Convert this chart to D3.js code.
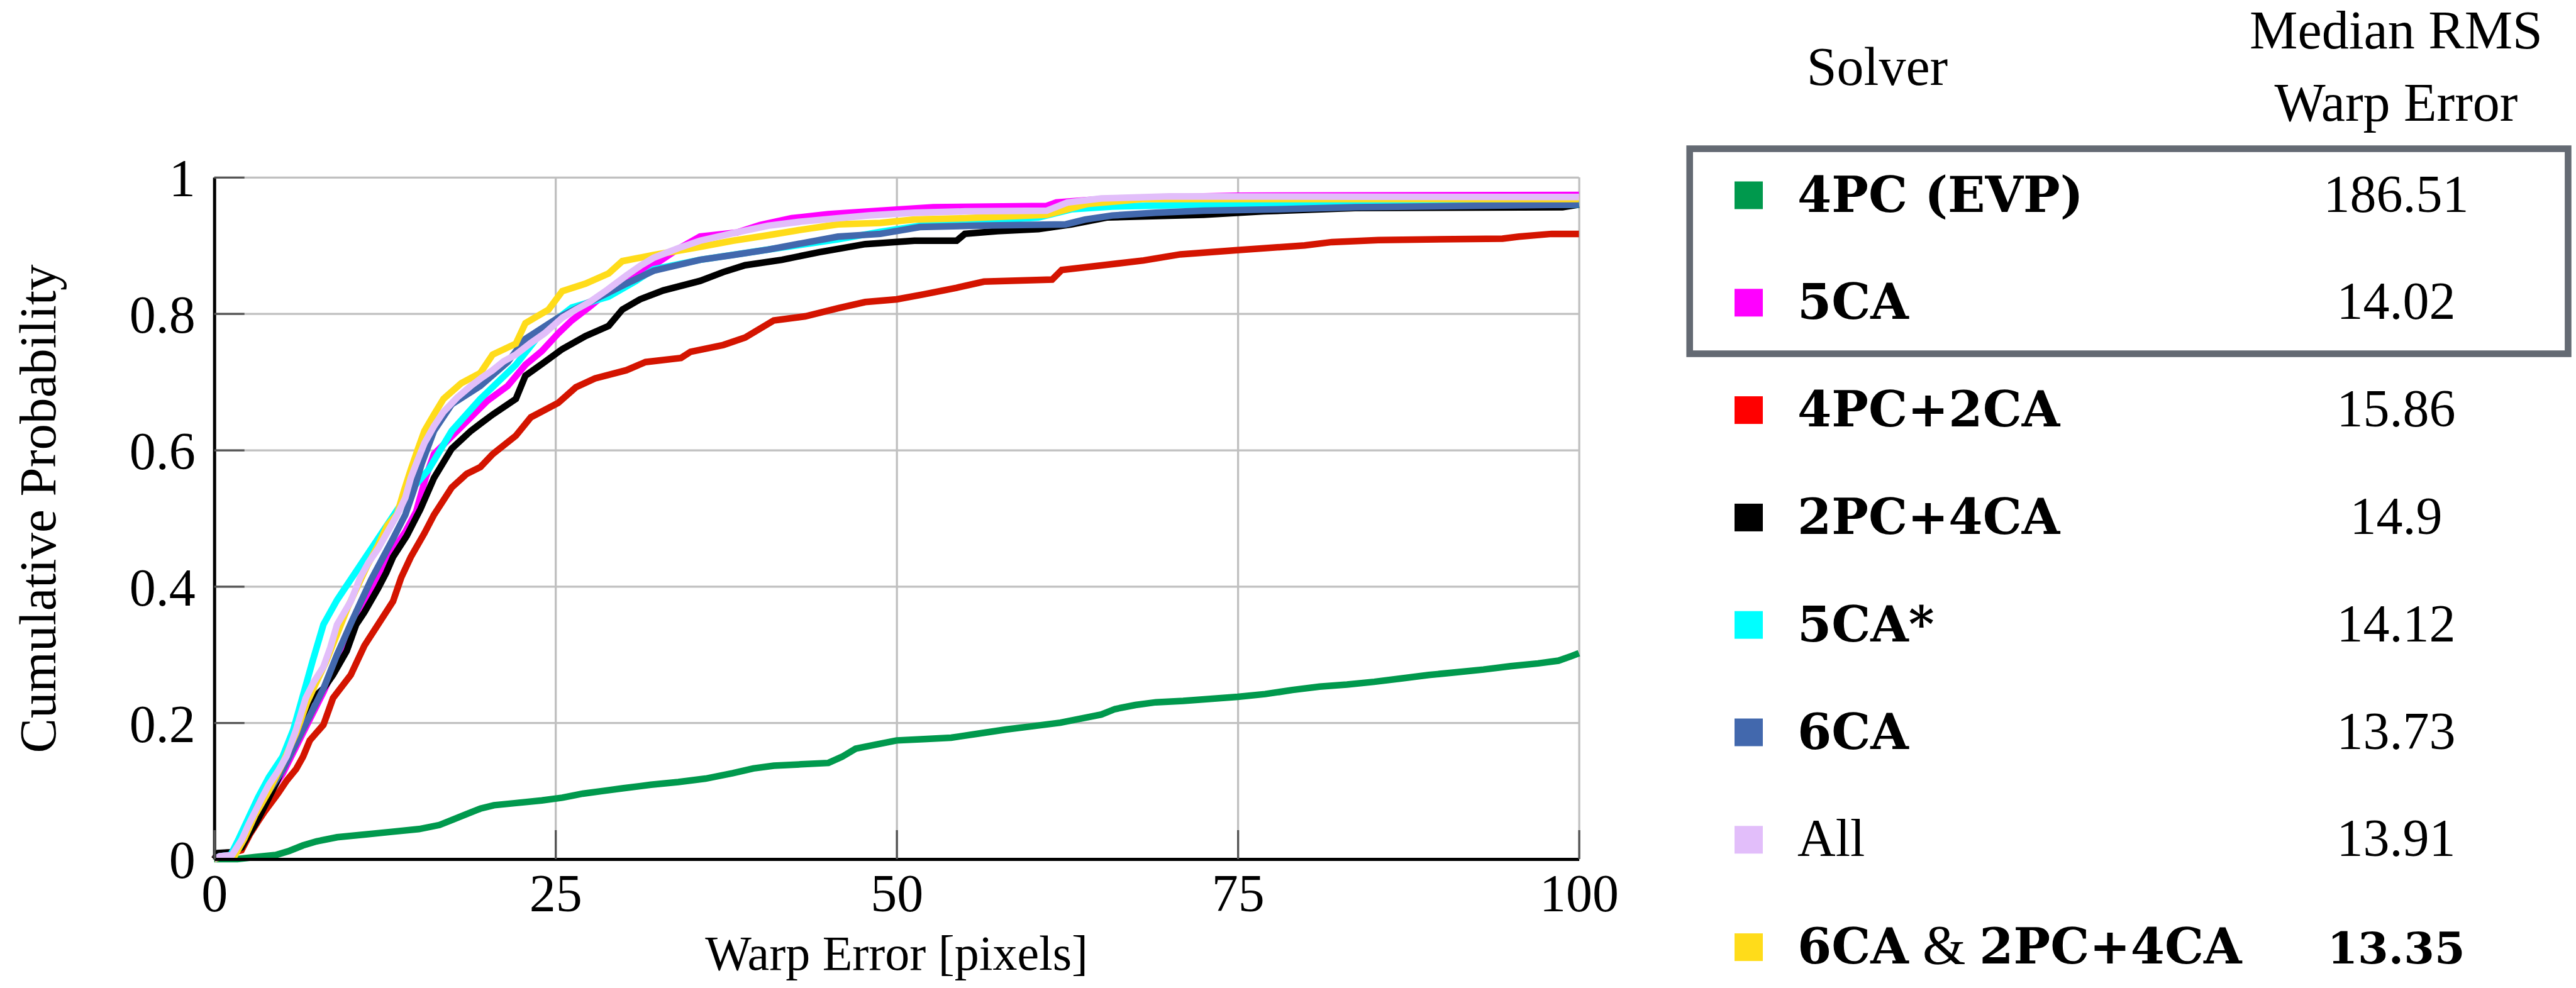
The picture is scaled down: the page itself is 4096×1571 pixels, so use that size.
<!DOCTYPE html>
<html><head><meta charset="utf-8">
<script src="https://cdn.jsdelivr.net/npm/d3@7"></script>
<style>html,body{margin:0;padding:0;background:#fff;} svg{display:block}</style>
</head><body>
<svg id="chart" width="4096" height="1571"></svg>
<script>
// ---------------- DATA ----------------
const xTicks = [0, 25, 50, 75, 100];
const yTicks = [0, 0.2, 0.4, 0.6, 0.8, 1];
const xTitle = "Warp Error [pixels]";
const yTitle = "Cumulative Probability";
const headerSolver = "Solver";
const headerMedian = ["Median RMS", "Warp Error"];
const solverNames = ["4PC (EVP)", "5CA", "4PC+2CA", "2PC+4CA", "5CA*", "6CA", "All", "6CA & 2PC+4CA"];
const medianRMS = ["186.51", "14.02", "15.86", "14.9", "14.12", "13.73", "13.91", "13.35"];

// CDF readings [warp error, cumulative probability]
const cdf4PC_EVP = [[0,0],[1.7,0],[3,0.003],[4.5,0.006],[5.5,0.012],[6.5,0.02],[7.5,0.026],[9,0.032],[11,0.036],[13,0.04],[15,0.044],[16.5,0.05],[17.5,0.058],[18.5,0.066],[19.5,0.074],[20.5,0.079],[22,0.082],[24,0.086],[25.5,0.09],[27,0.096],[28.5,0.1],[30,0.104],[32,0.109],[34,0.113],[36,0.118],[38,0.126],[39.5,0.133],[41,0.137],[43,0.139],[45,0.141],[46,0.15],[47,0.162],[48.5,0.168],[50,0.174],[52,0.176],[54,0.178],[56,0.184],[58,0.19],[60,0.195],[62,0.2],[63.5,0.206],[65,0.212],[66,0.22],[67.5,0.226],[69,0.23],[71,0.232],[73,0.235],[75,0.238],[77,0.242],[79,0.248],[81,0.253],[83,0.256],[85,0.26],[87,0.265],[89,0.27],[91,0.274],[93,0.278],[95,0.283],[97,0.287],[98.5,0.291],[99.5,0.298],[100,0.302]];
const cdf5CA = [[0,0],[0.4,0.004],[1.3,0.006],[2,0.022],[2.6,0.045],[3.2,0.07],[4,0.095],[5,0.125],[6,0.165],[7,0.205],[8,0.245],[9,0.29],[10,0.335],[11,0.375],[12,0.41],[13,0.45],[14,0.48],[14.8,0.51],[15.5,0.56],[16.1,0.594],[17.4,0.62],[18.8,0.648],[20,0.672],[21.5,0.694],[22.8,0.725],[24,0.745],[25.2,0.771],[26.2,0.79],[27.5,0.81],[28.9,0.833],[30.5,0.852],[32.2,0.871],[34,0.895],[35.6,0.913],[38.3,0.919],[40,0.93],[42.3,0.94],[45,0.946],[48.8,0.951],[52.7,0.956],[61,0.958],[61.7,0.963],[65,0.968],[70,0.971],[75,0.973],[100,0.974]];
const cdf4PC2CA = [[0,0],[0.2,0.006],[0.8,0.009],[1.5,0.01],[2,0.013],[2.6,0.036],[3.2,0.055],[3.7,0.07],[4.7,0.097],[5.3,0.115],[6,0.132],[6.5,0.15],[7,0.174],[8,0.197],[8.7,0.236],[10,0.27],[11,0.313],[12,0.344],[13.1,0.378],[13.7,0.413],[14.4,0.443],[15.4,0.478],[16.1,0.505],[17.4,0.545],[18.5,0.565],[19.5,0.575],[20.4,0.594],[22.1,0.621],[23.2,0.648],[25.2,0.669],[26.5,0.692],[27.9,0.705],[30.2,0.717],[31.6,0.729],[34.2,0.735],[34.9,0.744],[37.3,0.754],[38.9,0.765],[41,0.79],[43.3,0.796],[45.7,0.808],[47.7,0.817],[50,0.821],[51.9,0.828],[54.4,0.838],[56.4,0.847],[61.4,0.85],[62.1,0.864],[65.1,0.871],[68.1,0.878],[70.8,0.887],[74.8,0.893],[79.9,0.9],[81.9,0.905],[85.3,0.908],[94.4,0.91],[95.6,0.913],[98,0.917],[100,0.917]];
const cdf2PC4CA = [[0,0],[0.3,0.009],[1.2,0.01],[2,0.017],[2.5,0.035],[3,0.051],[3.5,0.07],[4,0.09],[4.5,0.11],[5,0.132],[5.5,0.16],[6,0.19],[6.5,0.21],[7,0.232],[8,0.25],[8.7,0.27],[9.7,0.305],[10.4,0.344],[11,0.362],[12,0.397],[12.6,0.42],[13.1,0.443],[14.1,0.474],[15.1,0.513],[16.1,0.559],[17.4,0.602],[18.8,0.628],[20.4,0.652],[22.1,0.675],[22.8,0.709],[24.2,0.729],[25.5,0.748],[27.2,0.767],[28.9,0.782],[29.9,0.806],[31.2,0.821],[32.9,0.834],[35.6,0.848],[37.3,0.861],[38.9,0.871],[41.6,0.879],[44.3,0.89],[47.7,0.902],[51.3,0.907],[54.4,0.907],[55,0.917],[57.4,0.921],[60.4,0.924],[62.8,0.931],[65.4,0.941],[72.5,0.945],[76.9,0.95],[83.6,0.955],[98.8,0.956],[100,0.96]];
const cdf5CAstar = [[0,0],[0.4,0.004],[1.2,0.006],[1.8,0.03],[2.5,0.06],[3.2,0.09],[4,0.12],[5,0.15],[5.8,0.19],[6.5,0.24],[7.2,0.29],[8,0.344],[9,0.38],[10,0.41],[11,0.44],[12,0.47],[13,0.5],[14,0.53],[14.8,0.55],[15.7,0.571],[17.4,0.628],[19.5,0.675],[22.1,0.725],[24.2,0.778],[26.2,0.809],[28.9,0.825],[30.9,0.848],[32.2,0.865],[35.6,0.879],[40.6,0.894],[45.7,0.909],[48.8,0.92],[52.4,0.931],[56,0.935],[60.4,0.941],[62.8,0.953],[65.8,0.957],[72.5,0.96],[100,0.96]];
const cdf6CA = [[0,0],[0.4,0.004],[1.3,0.006],[2,0.025],[2.6,0.05],[3,0.07],[3.5,0.09],[4,0.1],[5,0.13],[6,0.17],[7,0.21],[8,0.25],[9,0.3],[10,0.345],[10.8,0.38],[11.5,0.41],[12.3,0.44],[13.1,0.47],[14,0.505],[14.6,0.54],[15.2,0.58],[16.1,0.628],[17.4,0.667],[19.5,0.694],[21.5,0.729],[22.8,0.763],[25.2,0.794],[27.5,0.817],[30.2,0.844],[32.2,0.863],[35.6,0.879],[38,0.886],[40.6,0.894],[43,0.903],[45.7,0.913],[48.8,0.917],[51.7,0.927],[56,0.929],[62.4,0.931],[63.8,0.938],[65.8,0.944],[69,0.948],[72.5,0.951],[78,0.953],[83.6,0.956],[100,0.96]];
const cdfAll = [[0,0],[0.4,0.004],[1.3,0.006],[2,0.028],[2.5,0.05],[3,0.07],[3.5,0.09],[4,0.109],[4.7,0.13],[5.3,0.151],[6,0.19],[6.7,0.236],[7.3,0.26],[8,0.282],[8.5,0.31],[9,0.344],[10,0.378],[10.7,0.413],[11.3,0.435],[12,0.455],[12.7,0.48],[13.4,0.505],[14,0.53],[14.4,0.559],[15,0.59],[15.4,0.61],[16.1,0.635],[16.8,0.656],[17.8,0.677],[18.8,0.694],[19.6,0.706],[20.4,0.717],[21.2,0.73],[22.1,0.74],[23.2,0.757],[24.2,0.771],[25.5,0.794],[26.5,0.806],[27.5,0.817],[28.8,0.835],[30.2,0.856],[31.2,0.87],[32.2,0.882],[34,0.896],[35.6,0.907],[38,0.918],[40.6,0.929],[43,0.935],[45.7,0.94],[48,0.944],[51.3,0.948],[55,0.95],[61,0.951],[62.5,0.963],[65,0.969],[70,0.972],[100,0.971]];
const cdf6CA_2PC4CA = [[0,0],[0.5,0.003],[1.5,0.005],[2.2,0.03],[3,0.065],[4,0.1],[5,0.14],[6,0.185],[6.8,0.23],[7.5,0.26],[8.2,0.29],[9,0.33],[9.8,0.37],[10.5,0.4],[11.2,0.43],[12,0.46],[12.7,0.49],[13.4,0.506],[13.9,0.54],[14.4,0.571],[14.9,0.6],[15.4,0.628],[16.1,0.652],[16.8,0.675],[18.1,0.698],[19.5,0.713],[20.4,0.74],[22.1,0.756],[22.8,0.786],[24.5,0.806],[25.5,0.833],[27.2,0.844],[28.9,0.859],[29.9,0.877],[32.2,0.886],[35.6,0.898],[38,0.907],[40.6,0.915],[43,0.923],[45.7,0.931],[48.8,0.933],[51.3,0.938],[55,0.94],[61,0.945],[64,0.961],[68,0.968],[100,0.968]];

const seriesData = [cdf4PC_EVP, cdf5CA, cdf4PC2CA, cdf2PC4CA, cdf5CAstar, cdf6CA, cdfAll, cdf6CA_2PC4CA];

// ---------------- STYLE ----------------
const lineColors   = ["#00994d", "#ff00ff", "#d41400", "#000000", "#00ffff", "#4268ad", "#e2befa", "#ffdc1a"];
const swatchColors = ["#00994d", "#ff00ff", "#ff0000", "#000000", "#00ffff", "#4268ad", "#e2befa", "#ffdc1a"];
const drawOrder = [0, 2, 1, 3, 4, 5, 7, 6];
const nameBold = [true, true, true, true, true, true, false, true];
const valueBold = [false, false, false, false, false, false, false, true];

const W = 4096, H = 1571;
const serif = "Liberation Serif, DejaVu Serif, serif";
const boldSerif = "DejaVu Serif, serif";

const svg = d3.select("#chart");
svg.append("rect").attr("width", W).attr("height", H).attr("fill", "#fff");

const plot = {left: 340.7, right: 2510.6, top: 281.9, bottom: 1366.0};
const pw = plot.right - plot.left, ph = plot.bottom - plot.top;
const x = d3.scaleLinear().domain([0, 100]).range([plot.left, plot.right]);
const y = d3.scaleLinear().domain([0, 1]).range([plot.bottom, plot.top]);

// grid
const gy = svg.append("g").attr("transform", `translate(${plot.left},0)`)
  .call(d3.axisLeft(y).tickValues(yTicks).tickSize(-pw).tickFormat(""));
gy.select(".domain").remove();
gy.selectAll("line").attr("stroke", "#c0c0c0").attr("stroke-width", 3.3);
const gx = svg.append("g").attr("transform", `translate(0,${plot.bottom})`)
  .call(d3.axisBottom(x).tickValues(xTicks).tickSize(-ph).tickFormat(""));
gx.select(".domain").remove();
gx.selectAll("line").attr("stroke", "#c0c0c0").attr("stroke-width", 3.3);

// curves
const line = d3.line().x(d => x(d[0])).y(d => y(d[1])).curve(d3.curveLinear);
const curves = svg.append("g");
drawOrder.forEach(i => {
  curves.append("path").datum(seriesData[i])
    .attr("d", line).attr("fill", "none")
    .attr("stroke", lineColors[i]).attr("stroke-width", 10.5)
    .attr("stroke-linejoin", "miter").attr("stroke-linecap", "butt");
});

// axes
const ay = svg.append("g").attr("transform", `translate(${plot.left},0)`)
  .call(d3.axisLeft(y).tickValues(yTicks).tickSizeInner(-48).tickSizeOuter(0).tickPadding(30)
    .tickFormat(d => d === 0 ? "0" : d === 1 ? "1" : d3.format(".1f")(d)));
ay.select(".domain").attr("stroke", "#000").attr("stroke-width", 5);
ay.selectAll(".tick line").attr("stroke", "#555").attr("stroke-width", 3.3);
ay.selectAll("text").attr("font-family", serif).attr("font-size", 84).attr("fill", "#000").attr("dy", "0.355em");

const ax = svg.append("g").attr("transform", `translate(0,${plot.bottom})`)
  .call(d3.axisBottom(x).tickValues(xTicks).tickSizeInner(-46).tickSizeOuter(0).tickPadding(23).tickFormat(d3.format("d")));
ax.select(".domain").attr("stroke", "#000").attr("stroke-width", 5);
ax.selectAll(".tick line").attr("stroke", "#555").attr("stroke-width", 3.3);
ax.selectAll("text").attr("font-family", serif).attr("font-size", 84).attr("fill", "#000");

// titles
svg.append("text").attr("x", (plot.left + plot.right) / 2).attr("y", 1542)
  .attr("text-anchor", "middle").attr("font-family", serif).attr("font-size", 78).text(xTitle);
svg.append("text").attr("transform", "translate(88,809) rotate(-90)")
  .attr("text-anchor", "middle").attr("font-family", serif).attr("font-size", 83).text(yTitle);

// legend table
const nameX = 2858, valueX = 3810, swX = 2758, swSize = 44;
const rowY = d3.scaleLinear().domain([0, 7]).range([310.5, 310.5 + 7 * 170.8]);

svg.append("text").attr("x", 2985).attr("y", 135).attr("text-anchor", "middle")
  .attr("font-family", serif).attr("font-size", 86).text(headerSolver);
headerMedian.forEach((t, k) => {
  svg.append("text").attr("x", valueX).attr("y", 77 + k * 115).attr("text-anchor", "middle")
    .attr("font-family", serif).attr("font-size", 86).text(t);
});

svg.append("rect").attr("x", 2686.7).attr("y", 236.5).attr("width", 1396.7).attr("height", 326)
  .attr("fill", "none").attr("stroke", "#646a73").attr("stroke-width", 10.6);

const rows = svg.append("g").selectAll("g").data(solverNames).join("g")
  .attr("transform", (d, i) => `translate(0,${rowY(i)})`);
rows.append("rect").attr("x", swX).attr("y", -swSize / 2).attr("width", swSize + 1).attr("height", swSize)
  .attr("fill", (d, i) => swatchColors[i]);
rows.each(function(d, i) {
  const t = d3.select(this).append("text").attr("x", nameX).attr("y", 26);
  if (!nameBold[i]) {
    t.attr("font-family", serif).attr("font-size", 84).text(d);
  } else {
    const parts = d.split(" & ");
    parts.forEach((p, k) => {
      if (k > 0) t.append("tspan").attr("font-family", serif).attr("font-size", 88).attr("font-weight", "normal").text(" & ");
      t.append("tspan").attr("font-family", boldSerif).attr("font-size", 78).attr("font-weight", "bold").text(p);
    });
  }
  const v = d3.select(this).append("text").attr("x", valueX).attr("y", 26).attr("text-anchor", "middle").text(medianRMS[i]);
  if (valueBold[i]) v.attr("font-family", boldSerif).attr("font-weight", "bold").attr("font-size", 70);
  else v.attr("font-family", serif).attr("font-size", 84);
});
</script>
</body></html>
